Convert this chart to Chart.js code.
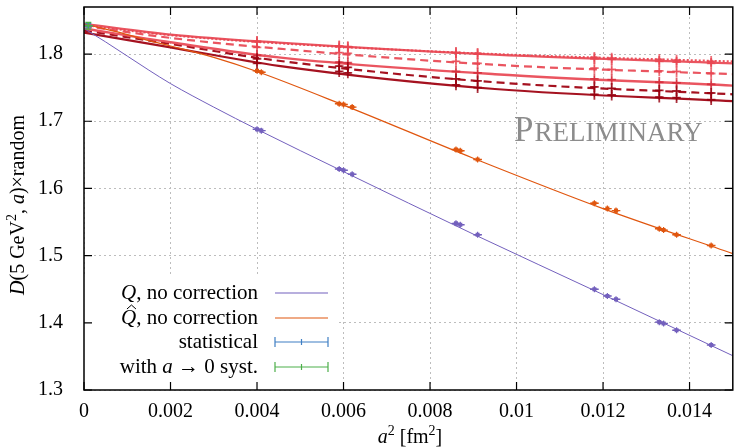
<!DOCTYPE html>
<html>
<head>
<meta charset="utf-8">
<script src="https://cdn.jsdelivr.net/npm/chart.js@4.4.1/dist/chart.umd.min.js"></script>
<style>
html,body{margin:0;padding:0;background:#fff}
#wrap{width:738px;height:448px}
</style>
</head>
<body>
<div id="wrap"><canvas id="chart" width="738" height="448"></canvas></div>
<script>
// tick labels
var xTickVals = [0, 0.002, 0.004, 0.006, 0.008, 0.01, 0.012, 0.014];
var yTickVals = [1.3, 1.4, 1.5, 1.6, 1.7, 1.8];

// "no correction" curves
var curveX  = [0, 0.0005, 0.001, 0.0015, 0.002, 0.003, 0.004, 0.006, 0.009, 0.012, 0.015];
var purpleY = [1.838, 1.818, 1.797, 1.776, 1.756, 1.721, 1.688, 1.625, 1.532, 1.442, 1.351];
var orangeY = [1.845, 1.837, 1.829, 1.820, 1.812, 1.795, 1.774, 1.724, 1.645, 1.570, 1.503];

// red fit curves
var redX      = [0, 0.002, 0.0045, 0.0095, 0.015];
var redSolidA = [1.845, 1.829, 1.817, 1.799, 1.786];
var redDotA   = [1.843, 1.828, 1.816, 1.800, 1.789];
var redDashA  = [1.842, 1.824, 1.808, 1.784, 1.770];
var redSolidB = [1.838, 1.8175, 1.795, 1.770, 1.753];
var redDashC  = [1.835, 1.815, 1.790, 1.758, 1.740];
var redSolidC = [1.832, 1.810, 1.7825, 1.748, 1.730];

// data points, Q and Q-hat
var ptX       = [0.0040, 0.0041, 0.0059, 0.0060, 0.0062, 0.0086, 0.0087, 0.0091, 0.0118, 0.0121, 0.0123, 0.0133, 0.0134, 0.0137, 0.0145];
var purplePts = [1.688, 1.686, 1.629, 1.627, 1.621, 1.548, 1.546, 1.531, 1.450, 1.440, 1.435, 1.401, 1.399, 1.389, 1.367];
var orangePts = [1.775, 1.773, 1.726, 1.725, 1.721, 1.658, 1.656, 1.643, 1.578, 1.570, 1.567, 1.540, 1.538, 1.531, 1.515];
var qErr = 0.002;

// data points on red curves
var redPtX     = [0.0040, 0.0059, 0.0061, 0.0086, 0.0091, 0.0118, 0.0122, 0.0133, 0.0137, 0.0145];
var redPtsA    = [1.819, 1.812, 1.811, 1.802, 1.800, 1.793, 1.792, 1.789, 1.788, 1.786];
var redPtsDotA = [1.818, 1.811, 1.810, 1.802, 1.801, 1.795, 1.794, 1.792, 1.791, 1.789];
var redPtsDshA = [1.810, 1.802, 1.801, 1.789, 1.786, 1.779, 1.777, 1.775, 1.774, 1.771];
var redPtsB    = [1.798, 1.788, 1.787, 1.774, 1.772, 1.763, 1.762, 1.758, 1.757, 1.755];
var redPtsDshC = [1.793, 1.782, 1.780, 1.763, 1.760, 1.751, 1.749, 1.746, 1.745, 1.742];
var redPtsC    = [1.786, 1.774, 1.772, 1.754, 1.750, 1.740, 1.739, 1.736, 1.735, 1.732];
var redErr = 0.008;

// continuum value
var contX = [0.0001];
var contY = [1.842];
var statErr = 0.003;
var systErr = 0.005;

var SERIF = '"Liberation Serif", "DejaVu Serif", serif';
var C_PURPLE = '#7360bd', C_ORANGE = '#e0560f', C_BLUE = '#3f7fc4', C_GREEN = '#4daf4a';
var C_RED_L = 'rgba(232,70,82,0.92)', C_RED_D = 'rgba(160,5,20,0.95)';

function pts(xs, ys){ return xs.map(function(x, i){ return {x: x, y: ys[i]}; }); }

function curve(xs, ys, color, width, dash){
    return { type: 'line', data: pts(xs, ys), borderColor: color, borderWidth: width, borderDash: dash || [],
             pointRadius: 0, cubicInterpolationMode: 'monotone', fill: false };
}
function marks(xs, ys, color, err, cap, lw){
    return { type: 'line', data: pts(xs, ys), showLine: false, borderColor: color, backgroundColor: color,
             pointStyle: 'cross', pointRadius: 3, borderWidth: 1.2, errY: err, errX: 0.0001, cap: cap, errWidth: lw || 1.4 };
}

var datasets = [
    curve(curveX, purpleY, C_PURPLE, 1),
    curve(curveX, orangeY, C_ORANGE, 1.2),
    marks(ptX, purplePts, C_PURPLE, qErr, 2),
    marks(ptX, orangePts, C_ORANGE, qErr, 2),
    marks(contX, contY, C_BLUE, statErr, 3),
    marks(contX, contY, C_GREEN, systErr, 3),
    curve(redX, redSolidA, C_RED_L, 2.2),
    curve(redX, redDotA, C_RED_L, 2, [2, 2]),
    curve(redX, redDashA, C_RED_L, 2.2, [8, 5]),
    curve(redX, redSolidB, C_RED_L, 2.4),
    curve(redX, redDashC, C_RED_D, 2.2, [8, 5]),
    curve(redX, redSolidC, C_RED_D, 2.2),
    marks(redPtX, redPtsA, 'rgba(232,70,82,0.75)', redErr, 0, 1.8),
    marks(redPtX, redPtsDotA, 'rgba(232,70,82,0.75)', redErr, 0, 1.8),
    marks(redPtX, redPtsDshA, 'rgba(232,70,82,0.75)', redErr, 0, 1.8),
    marks(redPtX, redPtsB, 'rgba(210,40,55,0.75)', redErr, 0, 1.8),
    marks(redPtX, redPtsDshC, 'rgba(150,0,15,0.8)', redErr, 0, 1.8),
    marks(redPtX, redPtsC, 'rgba(150,0,15,0.8)', redErr, 0, 1.8)
];

// draw text made of runs: {t, it, sup}
function runsWidth(ctx, runs, size){
    var w = 0;
    runs.forEach(function(r){
        ctx.font = (r.it ? 'italic ' : '') + (r.sup ? Math.round(size * 0.7) : size) + 'px ' + SERIF;
        w += ctx.measureText(r.t).width;
    });
    return w;
}
function drawRuns(ctx, runs, x, y, size){
    ctx.textBaseline = 'alphabetic';
    ctx.textAlign = 'left';
    runs.forEach(function(r){
        ctx.font = (r.it ? 'italic ' : '') + (r.sup ? Math.round(size * 0.7) : size) + 'px ' + SERIF;
        ctx.fillText(r.t, x, r.sup ? y - size * 0.38 : y);
        x += ctx.measureText(r.t).width;
    });
}

function errSample(ctx, x0, x1, y, color){
    ctx.strokeStyle = color; ctx.lineWidth = 1.2;
    ctx.beginPath();
    ctx.moveTo(x0, y); ctx.lineTo(x1, y);
    ctx.moveTo(x0, y - 5); ctx.lineTo(x0, y + 5);
    ctx.moveTo(x1, y - 5); ctx.lineTo(x1, y + 5);
    var m = (x0 + x1) / 2;
    ctx.moveTo(m, y - 3); ctx.lineTo(m, y + 3);
    ctx.stroke();
}

var decor = {
    id: 'decor',
    beforeDatasetsDraw: function(chart){
        // white legend box covers the grid
        var ctx = chart.ctx, a = chart.chartArea;
        ctx.save();
        ctx.fillStyle = '#fff';
        ctx.fillRect(a.left, 277, 337 - a.left, a.bottom - 277);
        ctx.restore();
    },
    afterDatasetsDraw: function(chart){
        // error bars
        var ctx = chart.ctx, xs = chart.scales.x, ys = chart.scales.y;
        ctx.save();
        chart.data.datasets.forEach(function(ds){
            if(!ds.errY) return;
            ctx.strokeStyle = ds.borderColor; ctx.lineWidth = ds.errWidth;
            ds.data.forEach(function(p){
                var px = xs.getPixelForValue(p.x), py = ys.getPixelForValue(p.y);
                var y0 = ys.getPixelForValue(p.y - ds.errY), y1 = ys.getPixelForValue(p.y + ds.errY);
                var x0 = xs.getPixelForValue(p.x - ds.errX), x1 = xs.getPixelForValue(p.x + ds.errX);
                ctx.beginPath();
                ctx.moveTo(px, y0); ctx.lineTo(px, y1);
                ctx.moveTo(x0, py); ctx.lineTo(x1, py);
                if(ds.cap){
                    ctx.moveTo(px - ds.cap, y0); ctx.lineTo(px + ds.cap, y0);
                    ctx.moveTo(px - ds.cap, y1); ctx.lineTo(px + ds.cap, y1);
                }
                ctx.stroke();
            });
        });
        ctx.restore();
    },
    afterDraw: function(chart){
        var ctx = chart.ctx, a = chart.chartArea, xs = chart.scales.x, ys = chart.scales.y;
        ctx.save();
        // frame + inward ticks
        ctx.strokeStyle = '#000'; ctx.lineWidth = 1.5;
        ctx.strokeRect(a.left, a.top, a.right - a.left, a.bottom - a.top);
        ctx.lineWidth = 1.2;
        ctx.beginPath();
        xTickVals.forEach(function(v){
            var px = xs.getPixelForValue(v);
            ctx.moveTo(px, a.bottom); ctx.lineTo(px, a.bottom - 8);
            ctx.moveTo(px, a.top); ctx.lineTo(px, a.top + 8);
        });
        yTickVals.forEach(function(v){
            var py = ys.getPixelForValue(v);
            ctx.moveTo(a.left, py); ctx.lineTo(a.left + 8, py);
            ctx.moveTo(a.right, py); ctx.lineTo(a.right - 8, py);
        });
        ctx.stroke();

        // axis titles
        ctx.fillStyle = '#000';
        var xt = [{t: 'a', it: true}, {t: '2', sup: true}, {t: ' [fm'}, {t: '2', sup: true}, {t: ']'}];
        drawRuns(ctx, xt, 410 - runsWidth(ctx, xt, 20) / 2, 443, 20);
        var yt = [{t: 'D', it: true}, {t: '(5 GeV'}, {t: '2', sup: true}, {t: ', '}, {t: 'a', it: true}, {t: ')\u00d7random'}];
        ctx.save();
        ctx.translate(24, 205);
        ctx.rotate(-Math.PI / 2);
        drawRuns(ctx, yt, -runsWidth(ctx, yt, 20) / 2, 0, 20);
        ctx.restore();

        // legend
        var rows = [
            {runs: [{t: 'Q', it: true}, {t: ', no correction'}], y: 293, kind: 'line', color: C_PURPLE},
            {runs: [{t: 'Q', it: true}, {t: ', no correction'}], y: 318, kind: 'line', color: C_ORANGE, hat: true},
            {runs: [{t: 'statistical'}], y: 342, kind: 'err', color: C_BLUE},
            {runs: [{t: 'with '}, {t: 'a', it: true}, {t: ' \u2192 0 syst.'}], y: 367, kind: 'err', color: C_GREEN}
        ];
        rows.forEach(function(r){
            var w = runsWidth(ctx, r.runs, 21), x = 258 - w;
            ctx.fillStyle = '#000';
            drawRuns(ctx, r.runs, x, r.y + 6, 21);
            if(r.hat){
                ctx.strokeStyle = '#000'; ctx.lineWidth = 1;
                ctx.beginPath();
                ctx.moveTo(x + 6, r.y - 9); ctx.lineTo(x + 10.5, r.y - 13); ctx.lineTo(x + 15, r.y - 9);
                ctx.stroke();
            }
            if(r.kind === 'line'){
                ctx.strokeStyle = r.color; ctx.lineWidth = 1.2;
                ctx.beginPath(); ctx.moveTo(275, r.y); ctx.lineTo(328, r.y); ctx.stroke();
            } else {
                errSample(ctx, 275, 328, r.y, r.color);
            }
        });

        // watermark
        ctx.fillStyle = '#8c8c8c';
        ctx.textBaseline = 'alphabetic'; ctx.textAlign = 'left';
        ctx.font = '35px ' + SERIF;
        ctx.fillText('P', 514, 141);
        var pw = ctx.measureText('P').width;
        ctx.font = '27px ' + SERIF;
        ctx.fillText('RELIMINARY', 514 + pw + 1, 141);
        ctx.restore();
    }
};

new Chart(document.getElementById('chart').getContext('2d'), {
    type: 'line',
    data: { datasets: datasets },
    options: {
        responsive: false,
        animation: false,
        layout: { padding: { top: 7, right: 3, left: 0, bottom: 0 } },
        plugins: { legend: { display: false }, tooltip: { enabled: false } },
        scales: {
            x: {
                type: 'linear', min: 0, max: 0.015, bounds: 'data',
                afterBuildTicks: function(s){ s.ticks = xTickVals.map(function(v){ return {value: v}; }); },
                afterFit: function(s){ s.height = 58; s.paddingLeft = 0; s.paddingRight = 0; },
                grid: { color: '#bdbdbd', lineWidth: 1, drawTicks: false },
                border: { display: false, dash: [2, 3] },
                ticks: { color: '#000', padding: 10, maxRotation: 0, font: { family: SERIF, size: 20 },
                         callback: function(v){ return String(Number(v.toFixed(3))); } }
            },
            y: {
                type: 'linear', min: 1.3, max: 1.87, bounds: 'data',
                afterBuildTicks: function(s){ s.ticks = yTickVals.map(function(v){ return {value: v}; }); },
                afterFit: function(s){ s.width = 84; s.paddingTop = 0; s.paddingBottom = 0; },
                grid: { color: '#bdbdbd', lineWidth: 1, drawTicks: false },
                border: { display: false, dash: [2, 3] },
                ticks: { color: '#000', padding: 21, font: { family: SERIF, size: 20 },
                         callback: function(v){ return v.toFixed(1); } }
            }
        }
    },
    plugins: [decor]
});
</script>
</body>
</html>
